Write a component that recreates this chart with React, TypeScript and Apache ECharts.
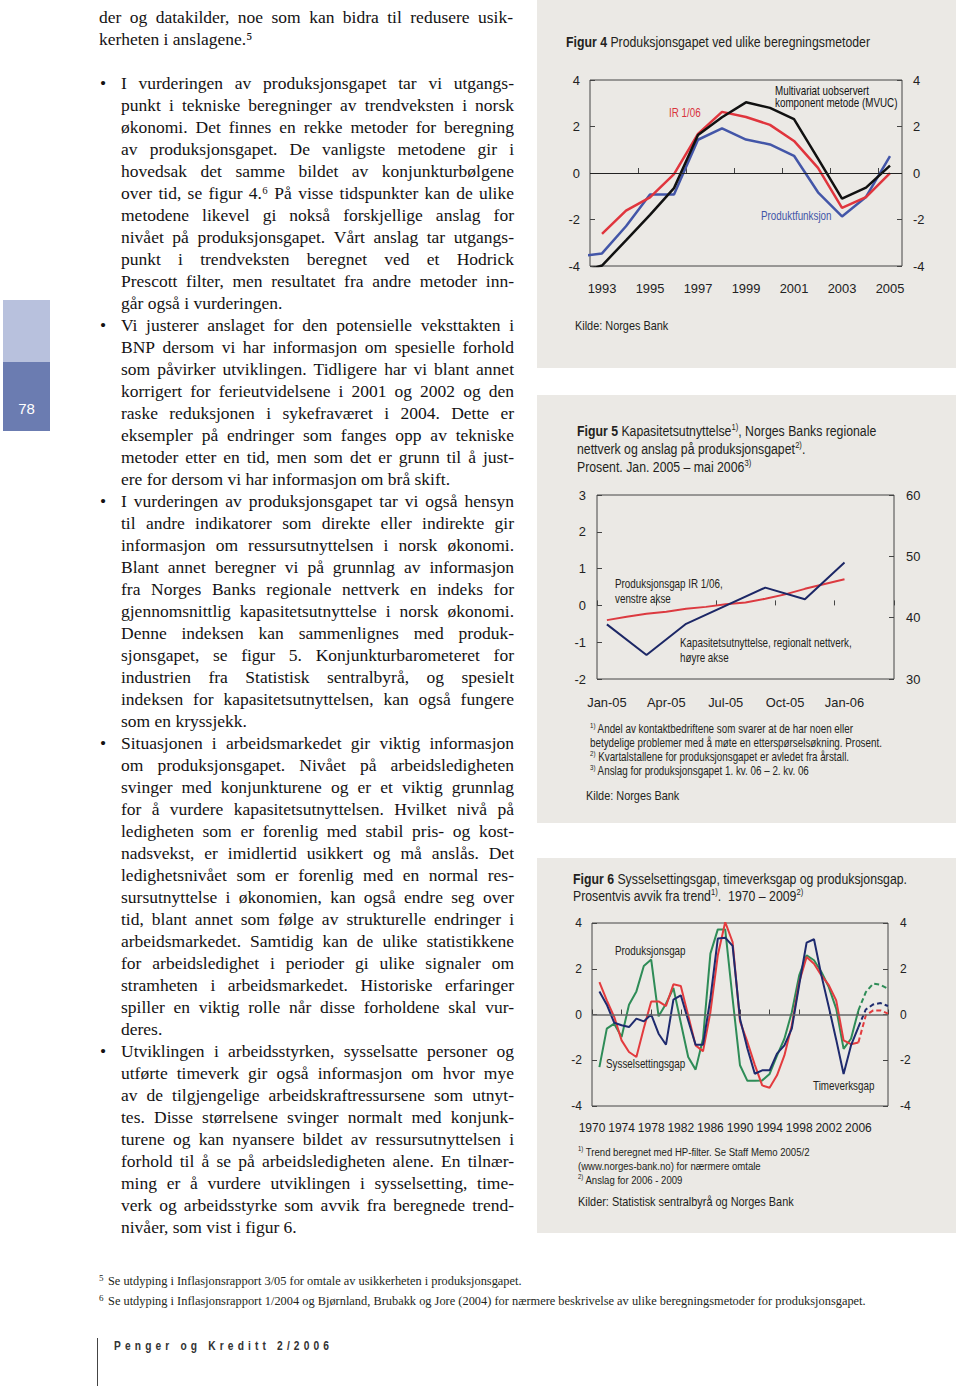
import React, { useEffect, useRef } from "react";
import * as echarts from "echarts";

// ---------------- DATA ----------------
// Figur 4
const fig4Years = [1992, 1993, 1994, 1995, 1996, 1997, 1998, 1999, 2000, 2001, 2002, 2003, 2004, 2005];
const fig4Mvuc = [-4.3, -3.98, -2.9, -1.8, -0.65, 1.63, 2.4, 3.04, 2.8, 2.32, 0.62, -1.1, -0.63, 0.32];
const fig4Ir = [null, -2.62, -1.62, -1.05, -0.05, 1.68, 2.63, 2.41, 2.07, 1.38, 0.22, -1.5, -1.04, -0.01];
const fig4Prod = [-3.6, -3.46, -2.29, -0.92, -0.92, 1.43, 1.92, 1.44, 1.23, 0.74, -0.83, -1.87, -1.03, 0.73];
const fig4XLabels = [1993, 1995, 1997, 1999, 2001, 2003, 2005];
const fig4XTicks = [1994.5, 1996.5, 1998.5, 2000.5, 2002.5, 2004.5];

// Figur 5
const fig5Months = ["Jan-05", "Feb-05", "Mar-05", "Apr-05", "May-05", "Jun-05", "Jul-05", "Aug-05", "Sep-05", "Oct-05", "Nov-05", "Dec-05", "Jan-06", "Feb-06", "Mar-06"];
const fig5Gap = [-0.4, -0.31, -0.23, -0.17, -0.09, -0.04, 0.03, 0.08, 0.18, 0.3, 0.45, 0.58, 0.71, null, null];
const fig5Cap = [38.9, null, 33.9, null, 39.0, null, null, null, 44.9, null, 43.0, null, 49.0, null, null];

// Figur 6
const fig6Years = [1971, 1972, 1973, 1974, 1975, 1976, 1977, 1978, 1979, 1980, 1981, 1982, 1983, 1984, 1985, 1986, 1987, 1988, 1989, 1990,
  1991, 1992, 1993, 1994, 1995, 1996, 1997, 1998, 1999, 2000, 2001, 2002, 2003, 2004, 2005, 2006, 2007, 2008, 2009, 2010];
const fig6Prod = [-2.3, -0.62, -0.4, -0.98, 0.43, 1.01, 2.12, 2.4, -0.08, 0.47, 1.16, -0.36, -1.86, -2.41, -1.06, 2.66, 3.72, 3.72, 0.7, -2.22,
  -2.9, -2.9, -2.88, -2.6, -1.8, -1.06, 0.1, 1.71, 2.59, 2.37, 1.86, 1.2, 0.26, -1.5, -1.06, 0.18, 0.98, 1.35, 1.3, 1.12];
const fig6Sys = [1.42, 0.62, -0.1, -1.13, -1.64, -1.86, -0.6, 0.57, 0.57, 0.37, 1.32, 1.25, -0.04, -1.35, -1.61, 0.1, 2.59, 4.04, 3.17, -0.3,
  -1.2, -2.2, -3.1, -3.2, -2.66, -1.79, -0.47, 1.42, 2.51, 2.22, 1.71, 1.28, 0.62, -1.13, -1.3, -1.22, -0.04, 0.18, 0.18, 0.04];
const fig6Time = [1.01, 0.43, -0.36, -0.47, -0.55, -0.18, -0.3, 0.0, -0.84, -1.32, 0.65, 0.84, -0.26, -1.32, -1.32, 0.69, 3.32, 3.36, 3.0, -0.18,
  -1.49, -2.59, -2.44, -2.44, -1.71, -1.35, -0.62, 1.3, 3.14, 3.29, 1.71, 0.33, -1.1, -2.6, -1.35, -0.55, 0.22, 0.44, 0.5, 0.37];
const fig6ForecastStart = 2006;

// Body text
const introLines = [
  "der og datakilder, noe som kan bidra til redusere usik-",
  "kerheten i anslagene.\u2075",
];
const bulletParas = [
  [
    "I vurderingen av produksjonsgapet tar vi utgangs-",
    "punkt i tekniske beregninger av trendveksten i norsk",
    "økonomi. Det finnes en rekke metoder for beregning",
    "av produksjonsgapet. De vanligste metodene gir i",
    "hovedsak det samme bildet av konjunkturbølgene",
    "over tid, se figur 4.\u2076 På visse tidspunkter kan de ulike",
    "metodene likevel gi nokså forskjellige anslag for",
    "nivået på produksjonsgapet. Vårt anslag tar utgangs-",
    "punkt i trendveksten beregnet ved et Hodrick",
    "Prescott filter, men resultatet fra andre metoder inn-",
    "går også i vurderingen.",
  ],
  [
    "Vi justerer anslaget for den potensielle veksttakten i",
    "BNP dersom vi har informasjon om spesielle forhold",
    "som påvirker utviklingen. Tidligere har vi blant annet",
    "korrigert for ferieutvidelsene i 2001 og 2002 og den",
    "raske reduksjonen i sykefraværet i 2004. Dette er",
    "eksempler på endringer som fanges opp av tekniske",
    "metoder etter en tid, men som det er grunn til å just-",
    "ere for dersom vi har informasjon om brå skift.",
  ],
  [
    "I vurderingen av produksjonsgapet tar vi også hensyn",
    "til andre indikatorer som direkte eller indirekte gir",
    "informasjon om ressursutnyttelsen i norsk økonomi.",
    "Blant annet beregner vi på grunnlag av informasjon",
    "fra Norges Banks regionale nettverk en indeks for",
    "gjennomsnittlig kapasitetsutnyttelse i norsk økonomi.",
    "Denne indeksen kan sammenlignes med produk-",
    "sjonsgapet, se figur 5. Konjunkturbarometeret for",
    "industrien fra Statistisk sentralbyrå, og spesielt",
    "indeksen for kapasitetsutnyttelsen, kan også fungere",
    "som en kryssjekk.",
  ],
  [
    "Situasjonen i arbeidsmarkedet gir viktig informasjon",
    "om produksjonsgapet. Nivået på arbeidsledigheten",
    "svinger med konjunkturene og er et viktig grunnlag",
    "for å vurdere kapasitetsutnyttelsen. Hvilket nivå på",
    "ledigheten som er forenlig med stabil pris- og kost-",
    "nadsvekst, er imidlertid usikkert og må anslås. Det",
    "ledighetsnivået som er forenlig med en normal res-",
    "sursutnyttelse i økonomien, kan også endre seg over",
    "tid, blant annet som følge av strukturelle endringer i",
    "arbeidsmarkedet. Samtidig kan de ulike statistikkene",
    "for arbeidsledighet i perioder gi ulike signaler om",
    "stramheten i arbeidsmarkedet. Historiske erfaringer",
    "spiller en viktig rolle når disse forholdene skal vur-",
    "deres.",
  ],
  [
    "Utviklingen i arbeidsstyrken, sysselsatte personer og",
    "utførte timeverk gir også informasjon om hvor mye",
    "av de tilgjengelige arbeidskraftressursene som utnyt-",
    "tes. Disse størrelsene svinger normalt med konjunk-",
    "turene og kan nyansere bildet av ressursutnyttelsen i",
    "forhold til å se på arbeidsledigheten alene. En tilnær-",
    "ming er å vurdere utviklingen i sysselsetting, time-",
    "verk og arbeidsstyrke som avvik fra beregnede trend-",
    "nivåer, som vist i figur 6.",
  ],
];
const pageFootnotes = [
  ["5", "Se utdyping i Inflasjonsrapport 3/05 for omtale av usikkerheten i produksjonsgapet."],
  ["6", "Se utdyping i Inflasjonsrapport 1/2004 og Bjørnland, Brubakk og Jore (2004) for nærmere beskrivelse av ulike beregningsmetoder for produksjonsgapet."],
];
const footerText = "Penger og Kreditt 2/2006";
const pageNumber = "78";

// ---------------- HELPERS ----------------
const canvasCtx = () => document.createElement("canvas").getContext("2d") as CanvasRenderingContext2D;

function fontAvailable(name: string) {
  const c = canvasCtx();
  const s = "abcdefghijklmnopqrstuvwxyz0123456789ABCDEF";
  c.font = "40px monospace";
  const a = c.measureText(s).width;
  c.font = `40px '${name}', monospace`;
  const b = c.measureText(s).width;
  c.font = "40px serif";
  const d = c.measureText(s).width;
  c.font = `40px '${name}', serif`;
  const e = c.measureText(s).width;
  return a !== b || d !== e;
}

export default function App() {
  const ref = useRef<HTMLDivElement>(null);

  useEffect(() => {
    document.body.style.margin = "0";
    const el = ref.current!;
    const chart = echarts.init(el, null, { renderer: "svg", width: 960, height: 1386 });

    const narrowOk = fontAvailable("Liberation Sans Narrow");
    const NF = narrowOk ? "'Liberation Sans Narrow', 'Liberation Sans', sans-serif" : "'Liberation Sans', Arial, sans-serif";
    const NS = narrowOk ? 1 : 0.82;
    const AX = narrowOk ? 1 : 0.86; // axis label size factor
    const SERIF = "'Liberation Serif', 'Times New Roman', serif";

    const ctx = canvasCtx();
    const measure = (t: string, font: string) => {
      ctx.font = font;
      return ctx.measureText(t).width;
    };

    const INK = "#231f20";
    const els: any[] = [];

    const txt = (x: number, y: number, text: string, font: string, opt: any = {}) => ({
      type: "text",
      x,
      y,
      scaleX: opt.scaleX ?? 1,
      z: 100,
      silent: true,
      style: {
        text,
        font,
        fill: opt.color || INK,
        align: opt.align || "left",
        textAlign: opt.align || "left",
        verticalAlign: "middle",
        textVerticalAlign: "middle",
      },
    });

    const nfont = (size: number, bold = false) => `${bold ? "bold " : ""}${size}px ${NF}`;
    const ntext = (x: number, y: number, text: string, size: number, color?: string) =>
      els.push(txt(x, y, text, nfont(size), { scaleX: NS, color }));

    // runs of normal/bold/superscript text on one line
    const runs = (x: number, y: number, parts: [string, string][], size: number, color?: string) => {
      let cx = x;
      parts.forEach(([t, k]) => {
        const sz = k === "s" ? size * 0.62 : size;
        const f = nfont(sz, k === "b");
        const yy = k === "s" ? y - size * 0.3 : y;
        els.push(txt(cx, yy, t, f, { scaleX: NS, color }));
        cx += measure(t, f) * NS;
      });
    };

    // ---- grey boxes ----
    const BOX = "#ebe9e5";
    [[0, 368], [395, 428], [858, 375]].forEach(([y, h]) =>
      els.push({ type: "rect", z: -100, silent: true, shape: { x: 537, y, width: 419, height: h }, style: { fill: BOX } })
    );

    // ---- sidebar tab ----
    els.push({ type: "rect", z: -100, silent: true, shape: { x: 3, y: 300, width: 47, height: 62 }, style: { fill: "#b8c1dd" } });
    els.push({ type: "rect", z: -100, silent: true, shape: { x: 3, y: 362, width: 47, height: 69 }, style: { fill: "#6b7cb1" } });
    els.push(txt(26.5, 408, pageNumber, "15px 'Liberation Sans', Arial, sans-serif", { align: "center", color: "#ffffff" }));

    // ---- body text ----
    const BODY = `17.5px ${SERIF}`;
    const BSX = 1.0;
    const BINK = "#141213";
    const spaceW = measure(" ", BODY) * BSX;
    const layLine = (line: string, x0: number, w: number, y: number, justify: boolean) => {
      const words = line.split(" ");
      const ws = words.map((wd) => measure(wd, BODY) * BSX);
      const sum = ws.reduce((a, b) => a + b, 0);
      let gap = spaceW;
      if (justify && words.length > 1) gap = (w - sum) / (words.length - 1);
      let x = x0;
      words.forEach((wd, i) => {
        els.push(txt(x, y, wd, BODY, { scaleX: BSX, color: BINK }));
        x += ws[i] + gap;
      });
    };
    const layPara = (lines: string[], x0: number, w: number, y0: number) => {
      lines.forEach((ln, i) => {
        const isLast = i === lines.length - 1;
        const natural = measure(ln, BODY) * BSX;
        const justify = !isLast || natural > w * 0.93;
        layLine(ln, x0, w, y0 + i * 22, justify);
      });
    };
    layPara(introLines, 99, 414, 17);
    let by = 83;
    bulletParas.forEach((p) => {
      els.push(txt(100, by, "\u2022", BODY, { color: BINK }));
      layPara(p, 121, 393, by);
      by += p.length * 22;
    });

    // ---- page footnotes ----
    const FN = `12px ${SERIF}`;
    const fnTargets = [414, 758];
    pageFootnotes.forEach(([n, t], i) => {
      const y = 1281 + i * 20;
      els.push(txt(99, y - 3, n, `9px ${SERIF}`));
      const w = measure(t, FN);
      els.push(txt(108, y, t, FN, { scaleX: fnTargets[i] / w }));
    });

    // ---- footer ----
    const FF = `600 12px 'Liberation Sans', Arial, sans-serif`;
    const chars = footerText.split("");
    const cw = chars.map((c) => measure(c, FF) * 0.85);
    const totalW = 215;
    const sp = (totalW - cw.reduce((a, b) => a + b, 0)) / (chars.length - 1);
    let fx = 114;
    chars.forEach((c, i) => {
      if (c !== " ") els.push(txt(fx, 1346, c, FF, { scaleX: 0.85, color: "#333" }));
      fx += cw[i] + sp;
    });
    els.push({ type: "line", z: 10, silent: true, shape: { x1: 97.5, y1: 1338, x2: 97.5, y2: 1386 }, style: { stroke: "#444", lineWidth: 1 } });

    // ---- figure 4 texts ----
    runs(566, 42, [["Figur 4", "b"], [" Produksjonsgapet ved ulike beregningsmetoder", "n"]], 15);
    ntext(775, 91, "Multivariat uobservert", 12, "#111");
    ntext(775, 103, "komponent metode (MVUC)", 12, "#111");
    ntext(669, 113, "IR 1/06", 12, "#d9343c");
    ntext(761, 216, "Produktfunksjon", 12, "#4356a8");
    ntext(575, 326, "Kilde: Norges Bank", 13.3);

    // ---- figure 5 texts ----
    runs(577, 431, [["Figur 5", "b"], [" Kapasitetsutnyttelse", "n"], ["1)", "s"], [", Norges Banks regionale", "n"]], 15);
    runs(577, 449, [["nettverk og anslag på produksjonsgapet", "n"], ["2)", "s"], [".", "n"]], 15);
    runs(577, 467, [["Prosent. Jan. 2005 – mai 2006", "n"], ["3)", "s"]], 15);
    ntext(615, 584, "Produksjonsgap IR 1/06,", 12);
    ntext(615, 599, "venstre akse", 12);
    ntext(680, 643, "Kapasitetsutnyttelse, regionalt nettverk,", 12);
    ntext(680, 658, "høyre akse", 12);
    runs(590, 729, [["1)", "s"], [" Andel av kontaktbedriftene som svarer at de har noen eller", "n"]], 12);
    runs(590, 743, [["betydelige problemer med å møte en etterspørselsøkning. Prosent.", "n"]], 12);
    runs(590, 757, [["2)", "s"], [" Kvartalstallene for produksjonsgapet er avledet fra årstall.", "n"]], 12);
    runs(590, 771, [["3)", "s"], [" Anslag for produksjonsgapet 1. kv. 06 – 2. kv. 06", "n"]], 12);
    ntext(586, 796, "Kilde: Norges Bank", 13.3);

    // ---- figure 6 texts ----
    runs(573, 879, [["Figur 6", "b"], [" Sysselsettingsgap, timeverksgap og produksjonsgap.", "n"]], 15);
    runs(573, 896, [["Prosentvis avvik fra trend", "n"], ["1)", "s"], [".  1970 – 2009", "n"], ["2)", "s"]], 15);
    ntext(615, 951, "Produksjonsgap", 12);
    ntext(606, 1064, "Sysselsettingsgap", 12);
    ntext(813, 1086, "Timeverksgap", 12);
    runs(578, 1152, [["1)", "s"], [" Trend beregnet med HP-filter. Se Staff Memo 2005/2", "n"]], 11.7);
    runs(578, 1166, [["(www.norges-bank.no) for nærmere omtale", "n"]], 11.7);
    runs(578, 1180, [["2)", "s"], [" Anslag for 2006 - 2009", "n"]], 11.7);
    ntext(578, 1202, "Kilder: Statistisk sentralbyrå og Norges Bank", 13.3);

    // ---------------- axes ----------------
    const lab = (size: number, margin: number, extra: any = {}) => ({
      fontSize: size * AX, fontFamily: NF, color: "#222", margin, ...extra,
    });
    const tick = (extra: any = {}) => ({ show: true, inside: true, length: 5, lineStyle: { color: "#444", width: 1 }, ...extra });
    const noLine = { show: false };
    const noSplit = { show: false };
    const gridBase = { show: true, borderColor: "#444", borderWidth: 1, backgroundColor: "transparent" };

    const yAx = (grid: number, pos: string, min: number, max: number, interval: number, size: number, margin: number) => ({
      gridIndex: grid, type: "value", position: pos, min, max, interval,
      axisLine: noLine, splitLine: noSplit, axisTick: tick(), axisLabel: lab(size, margin),
    });

    const zeroLine = (xi: number, yi: number, color: string, width: number) => ({
      type: "line", xAxisIndex: xi, yAxisIndex: yi, data: [], silent: true,
      markLine: {
        silent: true, symbol: ["none", "none"], label: { show: false },
        lineStyle: { color, width, type: "solid" }, emphasis: { disabled: true },
        data: [{ yAxis: 0 }],
      },
    });

    const line = (xi: number, yi: number, data: any[], color: string, width: number, extra: any = {}) => ({
      type: "line", xAxisIndex: xi, yAxisIndex: yi, data, showSymbol: false, symbol: "none",
      lineStyle: { color, width, ...(extra.lineStyle || {}) }, itemStyle: { color },
      emphasis: { disabled: true }, silent: true, connectNulls: !!extra.connectNulls,
    });

    const zip = (xs: any[], ys: any[]) => xs.map((x, i) => [x, ys[i]]).filter((p) => p[1] !== null);

    const fIdx = fig6Years.indexOf(fig6ForecastStart);
    const hist = (arr: number[]) => fig6Years.slice(0, fIdx + 1).map((y, i) => [y, arr[i]]);
    const fcst = (arr: number[]) => fig6Years.slice(fIdx).map((y, i) => [y, arr[fIdx + i]]);

    const option: any = {
      animation: false,
      backgroundColor: "#ffffff",
      grid: [
        { ...gridBase, left: 590, top: 80, width: 312, height: 186 },
        { ...gridBase, left: 597, top: 495, width: 297, height: 184 },
        { ...gridBase, left: 592, top: 923, width: 296, height: 183 },
      ],
      xAxis: [
        {
          gridIndex: 0, type: "value", min: 1992.5, max: 2005.5,
          axisLine: noLine, splitLine: noSplit,
          axisTick: tick({ customValues: fig4XTicks }),
          axisLabel: lab(15, 16, { customValues: fig4XLabels, formatter: (v: number) => String(v) }),
        },
        {
          gridIndex: 1, type: "category", data: fig5Months, boundaryGap: true,
          axisLine: noLine, splitLine: noSplit,
          axisTick: tick({ interval: 2 }),
          axisLabel: lab(15, 17, { interval: 2 }),
        },
        {
          gridIndex: 2, type: "value", min: 1970, max: 2010, interval: 4,
          axisLine: noLine, splitLine: noSplit,
          axisTick: tick(),
          axisLabel: lab(14, 16, { formatter: (v: number) => (v >= 2010 ? "" : String(v)) }),
        },
      ],
      yAxis: [
        yAx(0, "left", -4, 4, 2, 15, 10),
        yAx(0, "right", -4, 4, 2, 15, 11),
        yAx(1, "left", -2, 3, 1, 15, 11),
        yAx(1, "right", 30, 60, 10, 15, 12),
        yAx(2, "left", -4, 4, 2, 14, 10),
        yAx(2, "right", -4, 4, 2, 14, 12),
      ],
      series: [
        zeroLine(0, 0, "#222", 1),
        line(0, 0, zip(fig4Years, fig4Prod), "#4356a8", 2.5),
        line(0, 0, zip(fig4Years, fig4Ir), "#e0353d", 2.5),
        line(0, 0, zip(fig4Years, fig4Mvuc), "#111111", 2.5),

        line(1, 2, fig5Gap, "#dc3a40", 2),
        line(1, 3, fig5Cap, "#1c2766", 2, { connectNulls: true }),

        zeroLine(2, 4, "#666", 1.5),
        line(2, 4, hist(fig6Prod), "#2e8c57", 2),
        line(2, 4, fcst(fig6Prod), "#2e8c57", 2, { lineStyle: { type: [5, 3] } }),
        line(2, 4, hist(fig6Sys), "#e33b3e", 2),
        line(2, 4, fcst(fig6Sys), "#e33b3e", 2, { lineStyle: { type: [5, 3] } }),
        line(2, 4, hist(fig6Time), "#1e2a6e", 2),
        line(2, 4, fcst(fig6Time), "#1e2a6e", 2, { lineStyle: { type: [5, 3] } }),
      ],
      graphic: { elements: els },
    };

    chart.setOption(option);
    return () => chart.dispose();
  }, []);

  return (
    <div
      ref={ref}
      style={{ position: "absolute", left: 0, top: 0, width: 960, height: 1386, background: "#ffffff", overflow: "hidden" }}
    />
  );
}
